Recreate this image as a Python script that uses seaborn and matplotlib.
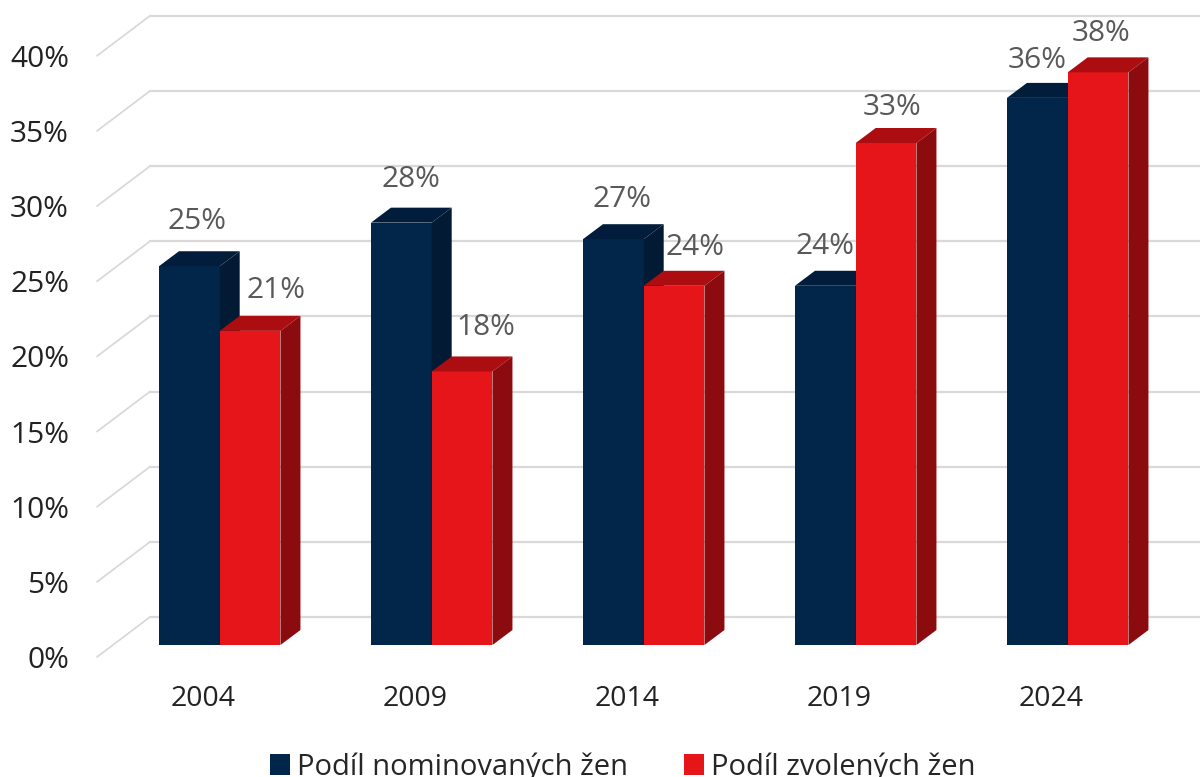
import matplotlib
matplotlib.use('Agg')
import matplotlib.pyplot as plt
from matplotlib.patches import Polygon
from matplotlib.transforms import Affine2D
import pandas as pd
import seaborn as sns

# values
years = ['2004', '2009', '2014', '2019', '2024']
nominated = [25.2, 28.1, 27.0, 23.9, 36.4]
elected = [20.9, 18.2, 23.9, 33.4, 38.1]
name_nominated = 'Podíl nominovaných žen'
name_elected = 'Podíl zvolených žen'
y_ticks = [0, 5, 10, 15, 20, 25, 30, 35, 40]

# pixel geometry of the fake 3d
W, H = 1200, 777
BASE_Y = 645
PX_PER_PCT = 15.03
PX_PER_CAT = 212
FIRST_X = 219.7
DEPTH_X, DEPTH_Y = 20, 15
AX_LEFT, AX_BOTTOM = 75, 678

# label nudges in pixels, navy then red (from bar centre / bar top)
nudge_x = [8, 10, 9, 0, 0, 26, 24, 21, 6, 3]
nudge_y = [45, 43, 40, 39, 37, 40, 44, 38, 35, 39]

COLORS = {
    name_nominated: ('#02264a', '#021d3c', '#021a33'),
    name_elected: ('#e51519', '#ab0d10', '#8c0b0e'),
}

sns.set_theme(style='white')
plt.rcParams['font.family'] = ['Open Sans', 'DejaVu Sans']

df = pd.DataFrame({
    'year': years * 2,
    'share': nominated + elected,
    'series': [name_nominated] * len(years) + [name_elected] * len(years),
})

fig = plt.figure(figsize=(W / 100, H / 100), dpi=100)
ax = fig.add_axes([AX_LEFT / W, (H - AX_BOTTOM) / H, 1 - AX_LEFT / W, AX_BOTTOM / H])

sns.barplot(data=df, x='year', y='share', hue='series', order=years,
            palette={k: v[0] for k, v in COLORS.items()}, saturation=1,
            width=121.5 / PX_PER_CAT, gap=0, linewidth=0, ax=ax, zorder=3)


def px_x(px):
    return (px - FIRST_X) / PX_PER_CAT


ax.set_xlim(px_x(AX_LEFT), px_x(W))
ax.set_ylim((BASE_Y - AX_BOTTOM) / PX_PER_PCT, BASE_Y / PX_PER_PCT)
ax.set_xlabel('')
ax.set_ylabel('')
sns.despine(ax=ax, left=True, bottom=True)

# back wall grid and the slanted left wall
back = ax.transData + Affine2D().translate(0, 28)
for t in y_ticks:
    ax.plot([px_x(150), px_x(W)], [t, t], color='#d9d9d9', lw=1.6,
            transform=back, zorder=1, clip_on=False)
    ax.plot([px_x(97), px_x(150)], [t - 40 / PX_PER_PCT, t], color='#d9d9d9',
            lw=1.3, transform=back, zorder=1, clip_on=False)

# top and side faces on every bar, red above navy
dx = DEPTH_X / PX_PER_CAT
dy = DEPTH_Y / PX_PER_PCT
bars = list(ax.patches)
series_of_bar = [name_nominated] * len(years) + [name_elected] * len(years)
for i, (bar, name) in enumerate(zip(bars, series_of_bar)):
    z = 3 if name == name_nominated else 4
    bar.set_zorder(z)
    x0, x1 = bar.get_x(), bar.get_x() + bar.get_width()
    top = bar.get_height()
    ax.add_patch(Polygon([(x0, top), (x1, top), (x1 + dx, top + dy), (x0 + dx, top + dy)],
                         closed=True, fc=COLORS[name][1], ec='none', zorder=z))
    ax.add_patch(Polygon([(x1, 0), (x1 + dx, dy), (x1 + dx, top + dy), (x1, top)],
                         closed=True, fc=COLORS[name][2], ec='none', zorder=z))
    ax.annotate(f'{round(top)}%', (x0 + bar.get_width() / 2, top),
                xytext=(nudge_x[i], nudge_y[i]), textcoords='offset pixels',
                ha='center', va='center', fontsize=21.5, color='#595959', zorder=6)

ax.set_yticks(y_ticks, [f'{t}%' for t in y_ticks])
ax.tick_params(axis='y', length=0, pad=4.3, labelsize=21.5, labelcolor='#222222')
ax.tick_params(axis='x', length=0, pad=5, labelsize=20.5, labelcolor='#222222')
for lab in ax.get_yticklabels():
    lab.set_transform(lab.get_transform() + Affine2D().translate(0, -12))
for lab in ax.get_xticklabels():
    lab.set_transform(lab.get_transform() + Affine2D().translate(-16.5, 0))

sns.move_legend(ax, 'center', bbox_to_anchor=(623 / W, (H - 767) / H),
                bbox_transform=fig.transFigure, ncol=2, title=None, frameon=False,
                fontsize=21, handlelength=0.69, handleheight=0.69,
                handletextpad=0.24, columnspacing=1.92, borderpad=0, borderaxespad=0)

fig.savefig('out.png', dpi=100)
